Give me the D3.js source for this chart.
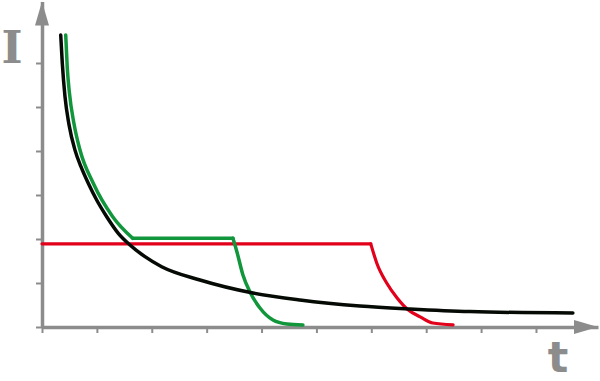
<!DOCTYPE html>
<html>
<head>
<meta charset="utf-8">
<script src="https://cdn.jsdelivr.net/npm/d3@7"></script>
<style>
  body { margin: 0; background: #fff; }
  svg { display: block; }
</style>
</head>
<body>
<svg id="chart"></svg>
<script>
// Data (t in tick units, I in tick units)
var blackT = [0.341, 0.370, 0.419, 0.492, 0.601, 0.710, 0.843, 0.996, 1.179, 1.390, 1.603, 1.876, 2.180, 2.878, 3.843, 4.699, 5.792, 6.703, 7.796, 9.672];
var blackI = [6.636, 5.993, 5.234, 4.600, 4.020, 3.643, 3.266, 2.886, 2.507, 2.130, 1.864, 1.598, 1.370, 1.068, 0.773, 0.614, 0.477, 0.409, 0.350, 0.318];

var greenT = [0.432, 0.460, 0.497, 0.583, 0.692, 0.934, 1.288, 1.652, 3.479, 3.552, 3.661, 3.789, 3.971, 4.208, 4.463, 4.754];
var greenI = [6.636, 5.900, 5.350, 4.620, 4.023, 3.266, 2.507, 2.016, 2.016, 1.705, 1.182, 0.795, 0.432, 0.159, 0.068, 0.045];
var greenBreaks = [7, 8];

var redT = [0, 5.99, 6.10, 6.28, 6.47, 6.67, 6.89, 7.12, 7.49];
var redI = [1.89, 1.89, 1.45, 1.00, 0.66, 0.39, 0.23, 0.09, 0.05];
var redBreaks = [1];

var xTicks = [0, 1, 2, 3, 4, 5, 6, 7, 8, 9];
var yTicks = [0, 1, 2, 3, 4, 5, 6];

// Set up the SVG dimensions
var svgWidth = 600;
var svgHeight = 381;
var axisColor = "#8c8c8c";

var svg = d3.select("#chart")
  .attr("width", svgWidth)
  .attr("height", svgHeight);

// Scales
var xScale = d3.scaleLinear().domain([0, 10.13]).range([42, 598]);
var yScale = d3.scaleLinear().domain([0, 7.4]).range([327, 1.4]);

// Axes
svg.append("g")
  .attr("transform", "translate(" + xScale(0) + ",0)")
  .call(d3.axisLeft(yScale).tickValues(yTicks).tickSize(6).tickSizeOuter(0).tickFormat(""));

svg.append("g")
  .attr("transform", "translate(0," + yScale(0) + ")")
  .call(d3.axisBottom(xScale).tickValues(xTicks).tickSize(6).tickSizeOuter(0).tickFormat(""));

svg.selectAll(".domain")
  .attr("stroke", axisColor)
  .attr("stroke-width", 3.5);
svg.selectAll(".tick line")
  .attr("stroke", axisColor)
  .attr("stroke-width", 2);

// Arrow heads
var yTop = yScale.range()[1];
var xEnd = xScale.range()[1];
svg.append("path")
  .attr("d", "M" + xScale(0) + "," + yTop + "L" + (xScale(0) - 7) + "," + (yTop + 24) + "L" + (xScale(0) + 7) + "," + (yTop + 24) + "Z")
  .attr("fill", axisColor);
svg.append("path")
  .attr("d", "M" + xEnd + "," + yScale(0) + "L" + (xEnd - 24) + "," + (yScale(0) - 7) + "L" + (xEnd - 24) + "," + (yScale(0) + 7) + "Z")
  .attr("fill", axisColor);

// Axis labels
svg.append("text")
  .attr("x", 12)
  .attr("y", 63)
  .attr("text-anchor", "middle")
  .attr("font-family", "DejaVu Serif")
  .attr("font-weight", "bold")
  .attr("font-size", 45)
  .attr("fill", axisColor)
  .text("I");

svg.append("text")
  .attr("x", 558)
  .attr("y", 372)
  .attr("text-anchor", "middle")
  .attr("font-family", "DejaVu Sans")
  .attr("font-weight", "bold")
  .attr("font-size", 43)
  .attr("fill", axisColor)
  .text("t");

// Curves
var line = d3.line()
  .x(function (d) { return xScale(d[0]); })
  .y(function (d) { return yScale(d[1]); })
  .curve(d3.curveMonotoneX);

function drawSeries(ts, vs, breaks, color, width) {
  var points = ts.map(function (t, i) { return [t, vs[i]]; });
  var cuts = [0].concat(breaks, [points.length - 1]);
  for (var k = 0; k < cuts.length - 1; k++) {
    svg.append("path")
      .datum(points.slice(cuts[k], cuts[k + 1] + 1))
      .attr("d", line)
      .attr("fill", "none")
      .attr("stroke", color)
      .attr("stroke-width", width)
      .attr("stroke-linejoin", "round")
      .attr("stroke-linecap", "round");
  }
}

drawSeries(redT, redI, redBreaks, "#e2001a", 3.2);
drawSeries(greenT, greenI, greenBreaks, "#12963c", 3.5);
drawSeries(blackT, blackI, [], "#050a05", 3.5);
</script>
</body>
</html>
